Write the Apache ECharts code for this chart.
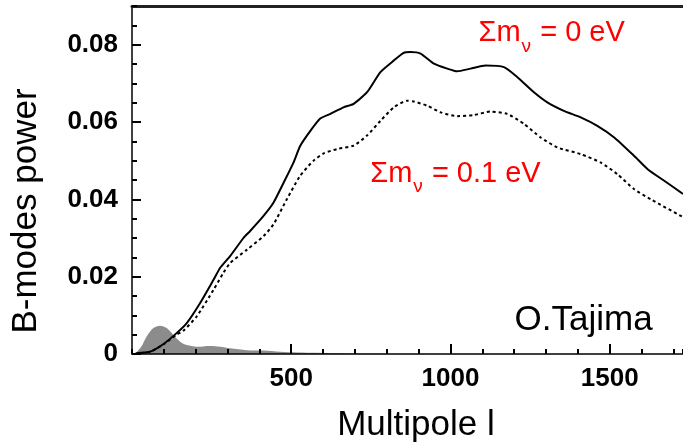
<!DOCTYPE html>
<html>
	<head>
		<meta charset="UTF-8">
		<title>B-modes power</title>
		<script type="text/javascript" src="https://cdn.jsdelivr.net/npm/echarts@6.0.0/dist/echarts.min.js"></script>
		<style>
			html, body { margin: 0; padding: 0; background: #fff; }
			#chart1 { width: 683px; height: 448px; }
		</style>
	</head>
	<body>
		<div id="chart1"></div>
		<script type="text/javascript">
			// Σmν = 0 eV (solid)
			var ellSolid = [10, 15, 57, 99, 140, 172, 214, 256, 277, 308, 350, 371, 413, 444, 476, 507, 528, 560, 591, 623, 664, 696, 738, 780, 822, 853, 874, 906, 948, 990, 1021, 1063, 1110, 1168, 1210, 1262, 1304, 1356, 1409, 1461, 1514, 1577, 1619, 1671, 1730];
			var powSolid = [0, 0.0002, 0.0006, 0.0026, 0.0054, 0.0080, 0.0132, 0.0192, 0.0223, 0.0253, 0.0300, 0.0318, 0.0357, 0.0391, 0.0443, 0.0495, 0.0538, 0.0577, 0.0609, 0.0621, 0.0638, 0.0647, 0.0677, 0.0729, 0.0759, 0.0779, 0.0781, 0.0777, 0.0751, 0.0738, 0.0731, 0.0738, 0.0746, 0.0742, 0.0716, 0.0677, 0.0651, 0.0629, 0.0612, 0.0590, 0.0560, 0.0512, 0.0478, 0.0448, 0.0414];
			// Σmν = 0.1 eV (dotted)
			var ellDot = [10, 57, 99, 140, 161, 203, 256, 287, 308, 361, 413, 444, 486, 528, 570, 602, 644, 696, 738, 780, 822, 864, 885, 927, 969, 1021, 1073, 1126, 1178, 1231, 1283, 1336, 1409, 1472, 1524, 1577, 1629, 1730];
			var powDot = [0, 0.0006, 0.0025, 0.0050, 0.0060, 0.0097, 0.0166, 0.0210, 0.0235, 0.0270, 0.0305, 0.0335, 0.0400, 0.0461, 0.0500, 0.0519, 0.0530, 0.0539, 0.0565, 0.0603, 0.0638, 0.0655, 0.0653, 0.0642, 0.0625, 0.0615, 0.0618, 0.0627, 0.0621, 0.0595, 0.0560, 0.0534, 0.0517, 0.0495, 0.0465, 0.0426, 0.0400, 0.0354];
			// shaded low-l band
			var ellShade = [10, 30, 46, 67, 88, 109, 130, 151, 172, 203, 245, 277, 308, 361, 413, 465, 518, 580, 680, 800];
			var powShade = [0, 0.0020, 0.0045, 0.0067, 0.0073, 0.0067, 0.0049, 0.0032, 0.0023, 0.0019, 0.0021, 0.0019, 0.0015, 0.0010, 0.0009, 0.0006, 0.0004, 0.0003, 0.0001, 0];
			// annotation anchors (left edge, vertical middle)
			var noteEll = [1088, 748, 1201];
			var notePow = [0.0829, 0.0465, 0.0088];
			var noteText = ['{a|Σm}{s|ν}{a| = 0 eV}', '{a|Σm}{s|ν}{a| = 0.1 eV}', '{b|O.Tajima}'];

			function pairs(xs, ys){
				return xs.map(function(x, i){ return [x, ys[i]]; });
			}

			var lMax = 1730, pMax = 0.09;
			var sans = 'Liberation Sans, Arial, sans-serif';
			var tickFont = { color: '#000', fontSize: 26, fontWeight: 'bold', fontFamily: sans,
				formatter: function(v){ return String(v); } };

			var myChart = echarts.init(document.getElementById('chart1'));
			myChart.setOption({
				animation: false,
				grid: { left: 132, right: 0, top: 6, bottom: 94 },
				xAxis: [
					{	// minor ticks every 100
						type: 'value', min: 0, max: lMax, interval: 100, position: 'bottom', z: 10,
						axisLine: { show: true, onZero: false, lineStyle: { color: '#000', width: 1.5 } },
						axisTick: { show: true, inside: true, length: 5, lineStyle: { color: '#000', width: 2 } },
						axisLabel: { show: false }, splitLine: { show: false }
					},
					{	// major ticks + labels
						type: 'value', min: 0, max: lMax, interval: 500, position: 'bottom', z: 10,
						axisLine: { show: false, onZero: false },
						axisTick: { show: true, inside: true, length: 10, lineStyle: { color: '#000', width: 2 } },
						axisLabel: Object.assign({ margin: 12, showMinLabel: false, showMaxLabel: false }, tickFont),
						splitLine: { show: false },
						name: 'Multipole l', nameLocation: 'middle', nameGap: 54,
						nameTextStyle: { color: '#000', fontSize: 35, fontFamily: sans, padding: [0, 0, 0, 17] }
					},
					{	// top frame
						type: 'value', min: 0, max: lMax, position: 'top', z: 10,
						axisLine: { show: true, onZero: false, lineStyle: { color: '#222', width: 3 } },
						axisTick: { show: false }, axisLabel: { show: false }, splitLine: { show: false }
					}
				],
				yAxis: [
					{
						type: 'value', min: 0, max: pMax, interval: 0.005, position: 'left', z: 10,
						axisLine: { show: true, onZero: false, lineStyle: { color: '#000', width: 1.5 } },
						axisTick: { show: true, inside: true, length: 5, lineStyle: { color: '#000', width: 2 } },
						axisLabel: { show: false }, splitLine: { show: false }
					},
					{
						type: 'value', min: 0, max: pMax, interval: 0.02, position: 'left', z: 10,
						axisLine: { show: false, onZero: false },
						axisTick: { show: true, inside: true, length: 9, lineStyle: { color: '#000', width: 2 } },
						axisLabel: Object.assign({ margin: 14, showMaxLabel: false }, tickFont),
						splitLine: { show: false },
						name: 'B-modes power', nameLocation: 'middle', nameGap: 88, nameRotate: 90,
						nameTextStyle: { color: '#000', fontSize: 35, fontFamily: sans, padding: [0, 62, 0, 0] }
					}
				],
				series: [
					{
						type: 'line', name: 'band', data: pairs(ellShade, powShade), smooth: 0.3,
						symbol: 'none', lineStyle: { width: 0 },
						areaStyle: { color: '#8c8c8c', opacity: 1 }
					},
					{
						type: 'line', name: 'sum0', data: pairs(ellSolid, powSolid), smooth: 0.2,
						symbol: 'none', lineStyle: { color: '#000', width: 2 }
					},
					{
						type: 'line', name: 'sum01', data: pairs(ellDot, powDot), smooth: 0.2,
						symbol: 'none', lineStyle: { color: '#000', width: 2, type: [3, 3] }
					},
					{	// text annotations
						type: 'scatter', name: 'notes', symbolSize: 0, silent: true,
						itemStyle: { color: '#000', opacity: 1 },
						data: noteEll.map(function(x, i){ return { value: [x, notePow[i]], text: noteText[i] }; }),
						label: {
							show: true, position: 'right', distance: 0, opacity: 1, textBorderWidth: 0,
							formatter: function(p){ return p.data.text; },
							rich: {
								a: { fontSize: 29, lineHeight: 29, verticalAlign: 'top', color: '#ff0000', fontFamily: sans, textBorderWidth: 0 },
								s: { fontSize: 19, lineHeight: 19, verticalAlign: 'top', padding: [18, 1, 0, 1], color: '#ff0000', fontFamily: sans, textBorderWidth: 0 },
								b: { fontSize: 35, lineHeight: 40, color: '#000', fontFamily: sans, textBorderWidth: 0 }
							}
						}
					}
				]
			});
		</script>
	</body>
</html>
